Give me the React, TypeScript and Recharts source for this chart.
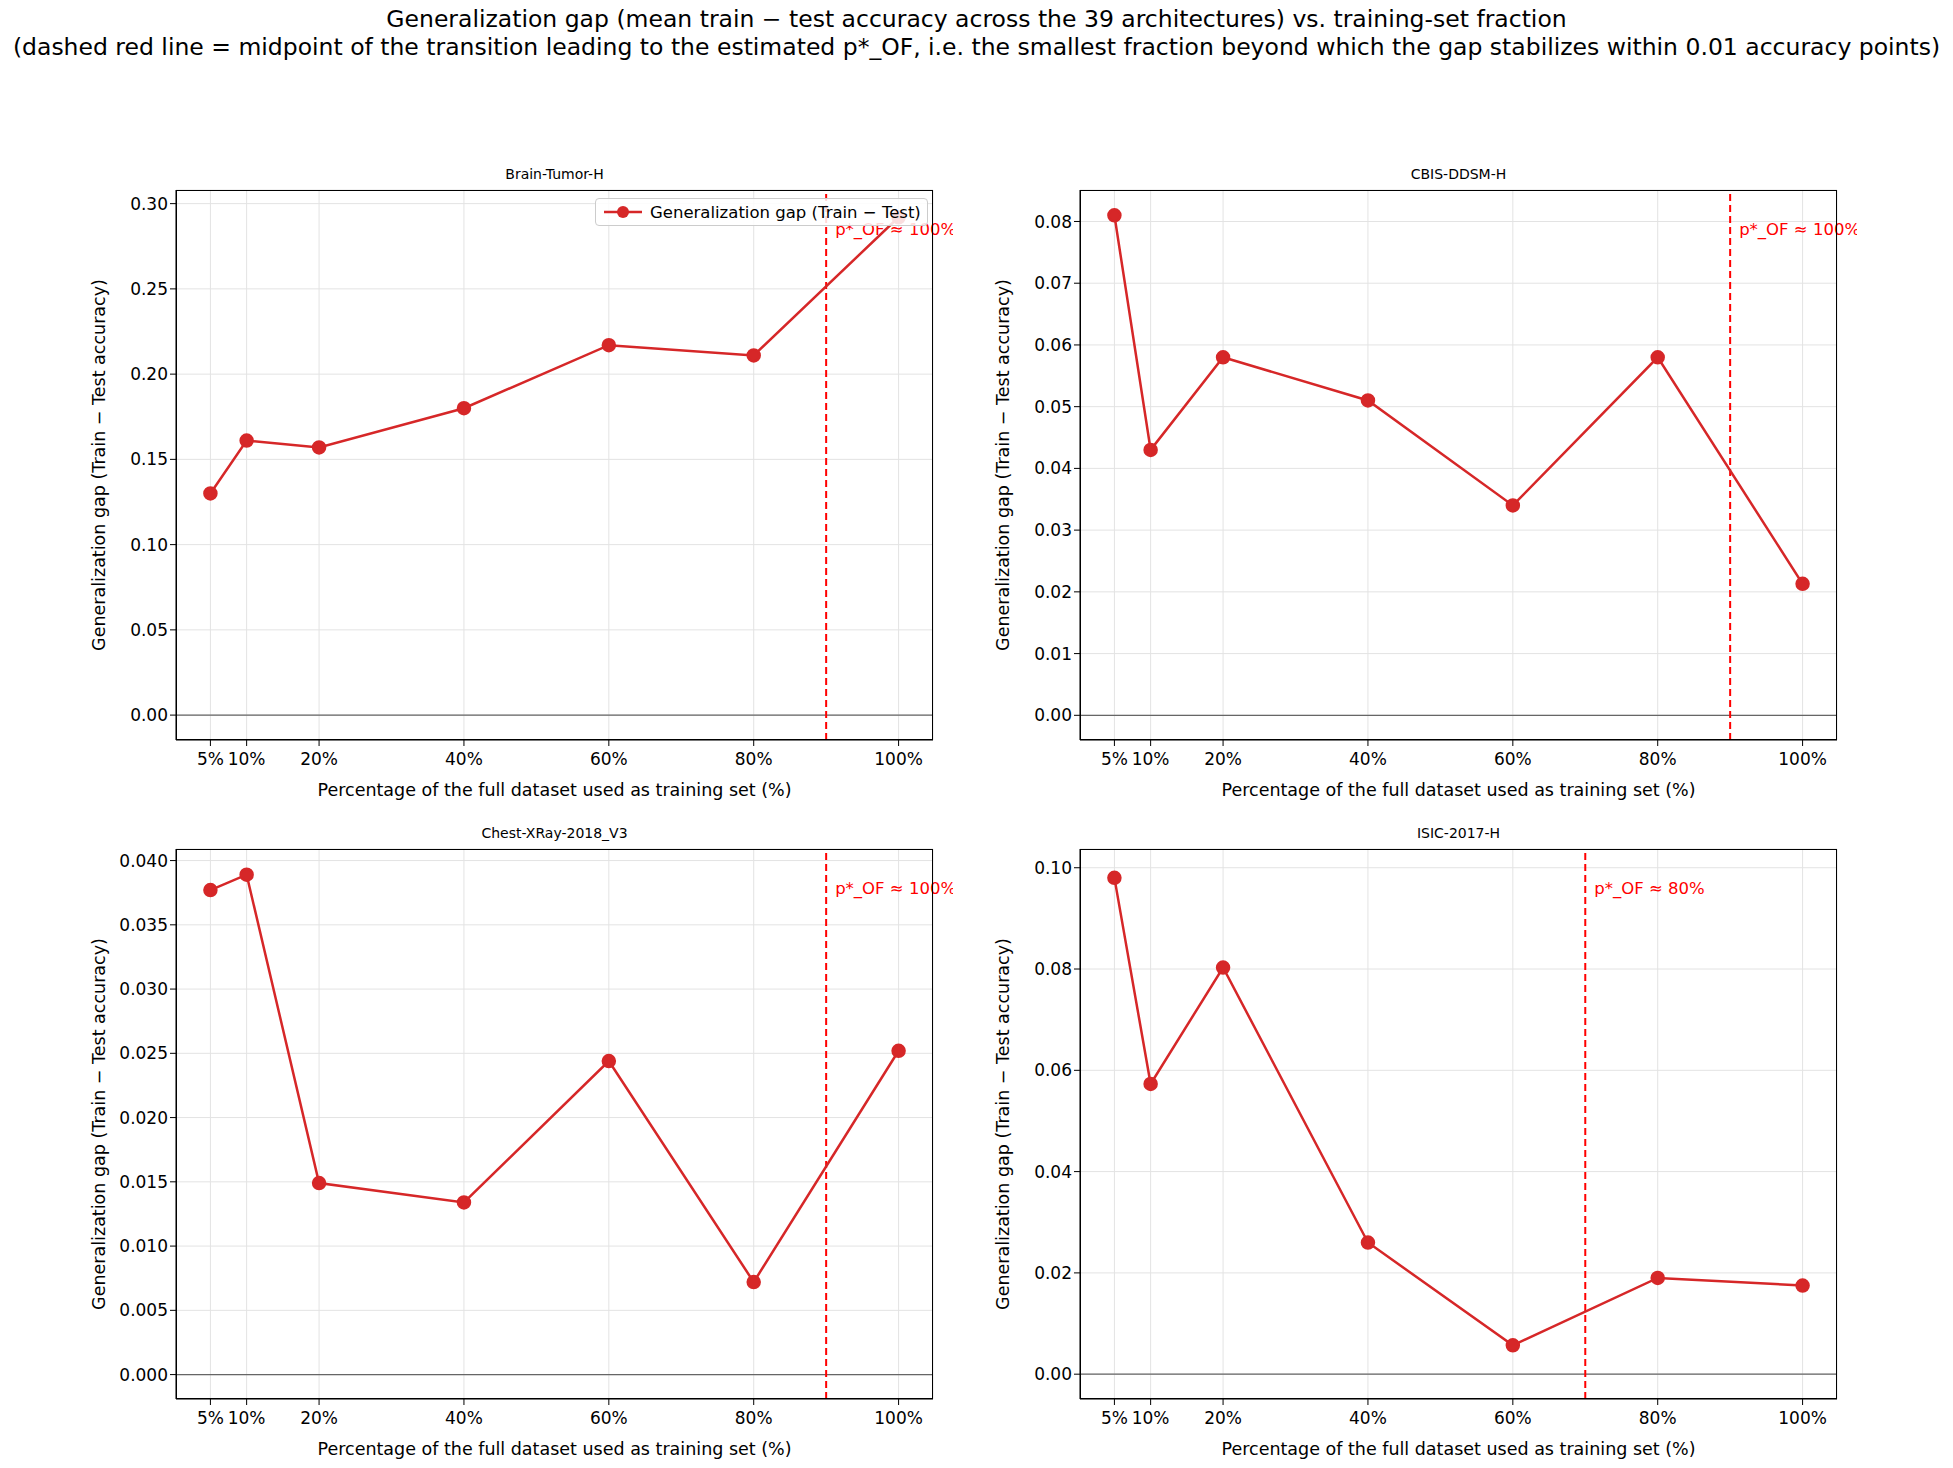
import React from 'react';
import { LineChart, Line, XAxis, YAxis, CartesianGrid, ReferenceLine } from 'recharts';

const fractions = [5, 10, 20, 40, 60, 80, 100];
const xTicks = [5, 10, 20, 40, 60, 80, 100];
const brainGap = [0.130, 0.161, 0.157, 0.180, 0.217, 0.211, 0.292];
const cbisGap = [0.081, 0.043, 0.058, 0.051, 0.034, 0.058, 0.0213];
const chestGap = [0.0377, 0.0389, 0.0149, 0.0134, 0.0244, 0.0072, 0.0252];
const isicGap = [0.098, 0.0573, 0.0803, 0.026, 0.0057, 0.019, 0.0175];

const panels = [
  { name: 'Brain-Tumor-H', vals: brainGap, domain: [-0.0146, 0.308], ticks: [0, 0.05, 0.1, 0.15, 0.2, 0.25, 0.3], dec: 2, vline: 90, pof: 'p*_OF ≈ 100%', legend: true, left: 176, top: 190 },
  { name: 'CBIS-DDSM-H', vals: cbisGap, domain: [-0.004, 0.0851], ticks: [0, 0.01, 0.02, 0.03, 0.04, 0.05, 0.06, 0.07, 0.08], dec: 2, vline: 90, pof: 'p*_OF ≈ 100%', legend: false, left: 1080, top: 190 },
  { name: 'Chest-XRay-2018_V3', vals: chestGap, domain: [-0.0019, 0.0409], ticks: [0, 0.005, 0.01, 0.015, 0.02, 0.025, 0.03, 0.035, 0.04], dec: 3, vline: 90, pof: 'p*_OF ≈ 100%', legend: false, left: 176, top: 849 },
  { name: 'ISIC-2017-H', vals: isicGap, domain: [-0.0049, 0.1037], ticks: [0, 0.02, 0.04, 0.06, 0.08, 0.1], dec: 2, vline: 70, pof: 'p*_OF ≈ 80%', legend: false, left: 1080, top: 849 },
];

const PW = 757, PH = 550, YW = 110, MT = 30, XH = 70, MR = 20;
const font = 'DejaVu Sans, sans-serif';

function Panel({ p }: { p: any }) {
  const data = fractions.map((f, i) => ({ f, gap: p.vals[i] }));
  return (
    <>
      <div style={{ position: 'absolute', left: p.left, top: p.top - 24, width: PW, textAlign: 'center', fontSize: 14, fontFamily: font }}>{p.name}</div>
      <div style={{ position: 'absolute', left: p.left - YW, top: p.top - MT }}>
        <LineChart width={PW + YW + MR} height={PH + MT + XH} data={data} margin={{ top: MT, right: MR, left: 0, bottom: 0 }} style={{ fontFamily: font }}>
          <CartesianGrid stroke="#e3e3e3" strokeWidth={1} horizontal vertical />
          <XAxis dataKey="f" type="number" domain={[0.25, 104.75]} ticks={xTicks} tickFormatter={(v: number) => `${v}%`} height={XH}
            tick={{ fill: '#000', fontSize: 17, dy: 5 }} tickLine={{ stroke: '#000' }} axisLine={{ stroke: '#000' }} tickSize={6} interval={0}
            label={{ value: 'Percentage of the full dataset used as training set (%)', position: 'insideBottom', offset: 14, fill: '#000', fontSize: 17.5 }} />
          <YAxis type="number" domain={p.domain} allowDataOverflow ticks={p.ticks} tickFormatter={(v: number) => v.toFixed(p.dec)} width={YW}
            tick={{ fill: '#000', fontSize: 17 }} tickLine={{ stroke: '#000' }} axisLine={{ stroke: '#000' }} tickSize={6} interval={0}
            label={{ value: 'Generalization gap (Train − Test accuracy)', angle: -90, position: 'insideLeft', offset: 33, fill: '#000', fontSize: 17.5, style: { textAnchor: 'middle' } }} />
          <ReferenceLine y={0} stroke="#666" strokeWidth={1.2} />
          <ReferenceLine x={p.vline} stroke="#ff0000" strokeWidth={2} strokeDasharray="7 4"
            label={(props: any) => (
              <text x={props.viewBox.x + 9} y={props.viewBox.y + 45} fill="#ff0000" fontSize={16.5} fontFamily={font}>{p.pof}</text>
            )} />
          <Line type="linear" dataKey="gap" stroke="#d62728" strokeWidth={2.5} dot={{ r: 6, fill: '#d62728', stroke: '#d62728' }} isAnimationActive={false} />
        </LineChart>
      </div>
      {p.legend && (
        <div style={{ position: 'absolute', left: 595, top: 198, width: 333, height: 28, boxSizing: 'border-box', background: 'rgba(255,255,255,0.85)', border: '1px solid #ccc', borderRadius: 4, fontSize: 16.5, display: 'flex', alignItems: 'center', gap: 8, paddingLeft: 8, fontFamily: font }}>
          <svg width={38} height={14}><line x1={0} y1={7} x2={38} y2={7} stroke="#d62728" strokeWidth={2.5} /><circle cx={19} cy={7} r={6} fill="#d62728" /></svg>
          <span>Generalization gap (Train − Test)</span>
        </div>
      )}
      <div style={{ position: 'absolute', left: p.left, top: p.top, width: PW, height: PH, border: '1px solid #000', boxSizing: 'border-box', pointerEvents: 'none' }} />
    </>
  );
}

export default function App() {
  return (
    <div style={{ position: 'absolute', left: 0, top: 0, width: 1953, height: 1468, background: '#fff', fontFamily: font }}>
      <div style={{ position: 'absolute', left: 0, top: 5, width: 1953, textAlign: 'center', fontSize: 23.5, lineHeight: '28px', whiteSpace: 'nowrap' }}>
        Generalization gap (mean train − test accuracy across the 39 architectures) vs. training-set fraction<br />
        (dashed red line = midpoint of the transition leading to the estimated p*_OF, i.e. the smallest fraction beyond which the gap stabilizes within 0.01 accuracy points)
      </div>
      {panels.map((p) => <Panel key={p.name} p={p} />)}
    </div>
  );
}
